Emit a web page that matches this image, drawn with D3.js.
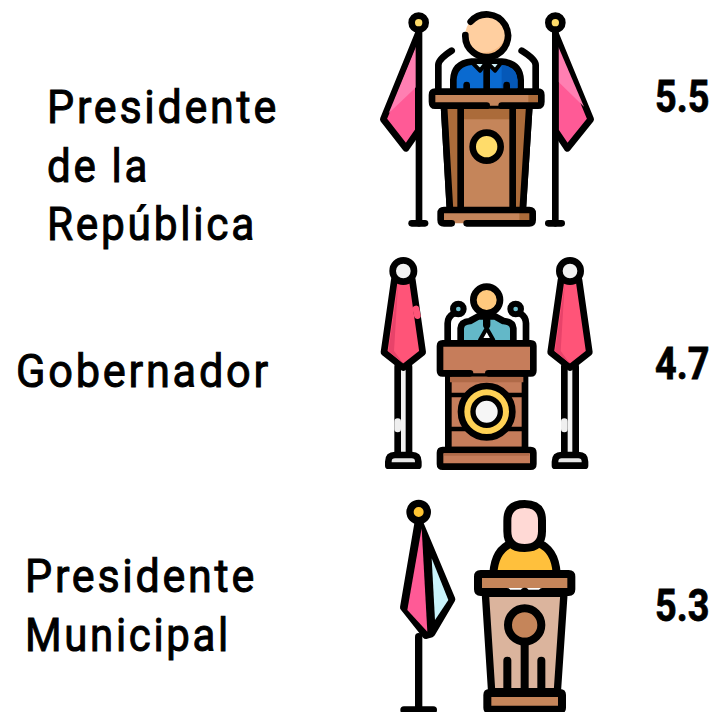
<!DOCTYPE html>
<html><head><meta charset="utf-8">
<script src="https://cdn.jsdelivr.net/npm/d3@7"></script>
<style>html,body{margin:0;background:#fff}svg{display:block}</style></head>
<body><svg id="c" width="715" height="712"></svg>
<script>
const categories = [["Presidente","de la","República"],["Gobernador"],["Presidente","Municipal"]];
const values = [5.5,4.7,5.3];

const labelX = [47,16,25];
const labelBaseline = [123,387,592];
const labelWidths = [[232,103,210],[255],[232,206]];
const valueBaseline = [112,379,621];
const lineHeight = 58.5;
const ink = "#000";
const svg = d3.select("#c");

const rows = svg.selectAll("g.row").data(categories).join("g").attr("class","row");
rows.each(function(lines,i){
  d3.select(this).selectAll("text").data(lines).join("text")
    .attr("x",labelX[i]).attr("y",(d,j)=>labelBaseline[i]+j*lineHeight)
    .attr("font-family","Roboto").attr("font-weight",400).attr("font-size",47)
    .attr("letter-spacing",3)
    .attr("stroke",ink).attr("stroke-width",1)
    .attr("textLength",(d,j)=>labelWidths[i][j]).attr("lengthAdjust","spacingAndGlyphs")
    .attr("fill",ink).text(d=>d);
});
svg.selectAll("text.val").data(values).join("text").attr("class","val")
  .attr("transform",(d,i)=>`translate(655,${valueBaseline[i]}) scale(0.84,1)`)
  .attr("font-family","Roboto").attr("font-weight",700).attr("font-size",45)
  .attr("stroke",ink).attr("stroke-width",0.8)
  .attr("fill",ink).text(d=>d3.format(".1f")(d));

function draw(g,list){
  g.selectAll("path").data(list).join("path")
    .attr("d",d=>d[0]).attr("fill",d=>d[1]||"none")
    .attr("stroke",d=>d[2]===0?"none":(d[3]||ink)).attr("stroke-width",d=>d[2]||20)
    .attr("stroke-linecap","round").attr("stroke-linejoin","round");
}
function circ(x,y,r){return `M${x-r},${y}a${r},${r} 0 1,0 ${2*r},0a${r},${r} 0 1,0 ${-2*r},0Z`;}
function rrect(x,y,w,h,r){return `M${x+r},${y}H${x+w-r}Q${x+w},${y} ${x+w},${y+r}V${y+h-r}Q${x+w},${y+h} ${x+w-r},${y+h}H${x+r}Q${x},${y+h} ${x},${y+h-r}V${y+r}Q${x},${y} ${x+r},${y}Z`;}

const wood="#c5855a", dark="#ab6b3a", wood2="#c67d5b", dark2="#b06a48", pink="#ff5a96", pinkL="#ff7fb2", red="#ff5478", redD="#e8436a", gold="#ffdc6a";

const icon1=[
 ["M145,100L40,358L108,445L145,392Z",pink],
 ["M138,140L56,340L138,262Z",pinkL,0],
 ["M147,70V670"],["M125,670H165"],
 [circ(146,68,21),gold],
 ["M556,100L662,358L592,445L556,392Z",pink],
 ["M565,140L642,320L565,245Z",pinkL,0],
 ["M556,70V670"],["M535,670H575"],
 [circ(556,68,21),gold],
 ["M205,272V195Q205,178 245,152"],["M497,272V195Q497,178 455,152"],
 ["M250,272V240Q252,190 305,185H395Q450,190 452,240V272","#0a6ad0"],
 ["M395,195Q440,200 443,240V264H395Z","#0558b8",0],
 ["M305,186H350L330,212ZM350,186H395L375,212Z","#cdeef7",12],
 ["M350,190V272"],["M290,272V255M410,272V255"],
 [circ(350,105,64),"#ffcfa0",0],
 ["M408,105A58,58 0 0 1 320,155A70,70 0 0 0 408,105Z","#f8bb84",0],
 ["M302,65A64,64 0 1 1 286,105",null],
 ["M222,318L478,318L458,632L240,632Z",wood],
 ["M230,326H470L468,358H232Z",dark,0],
 ["M232,326H272V625H245ZM428,326H470L455,625H428Z",dark,0],
 ["M272,322V630"],["M428,322V630"],
 ["M222,318L240,632M478,318L458,632"],
 [rrect(186,275,328,42,10),wood,0],
 ["M475,283H508V308H475Z",dark,0],
 ["M350,317H195Q186,317 186,305V285Q186,275 196,275H504Q514,275 514,285V305Q514,317 504,317H395",null],
 [circ(350,440,42),gold],
 [rrect(212,630,276,40,8),wood,0],
 ["M448,638H482V662H448Z",dark,0],
 ["M245,670H222Q212,670 212,660V640Q212,630 222,630H478Q488,630 488,640V660Q488,670 478,670H290"]
];
const flag2=(x,gapFlag)=>[
 [`M${x-17},365V632H${x+17}V365`,"#f3f3f3"],
 [`M${x-17},530V552`,null,20,"#efefef"],
 [`M${x-45},662V650Q${x-45},630 ${x-25},630H${x+25}Q${x+45},630 ${x+45},650V662Z`,"#e8e8e8"],
 [`M${x-27},105L${x-58},322L${x},368L${x+58},322L${x+27},105Z`,red],
 [`M${x-16},120L${x-45},318L${x},356L${x-28},318Z`,redD,0],
 ...(gapFlag?[[`M${x+38},192L${x+42},212`,null,20,red]]:[]),
 [circ(x,78,32),"#f2f2f2"]
];
const icon2=[
 ...flag2(100,true),...flag2(600,false),
 ["M233,285V235Q233,215 252,205"],["M468,285V235Q468,215 450,205"],
 [circ(265,192,16),"#6fc0cf",18],[circ(437,192,16),"#6fc0cf",18],
 ["M272,285V250Q274,230 300,228L325,214H375L400,228Q428,230 430,250V285","#63b8c8"],
 ["M330,285L350,250L370,285Z","#fff",12],
 ["M350,225V240","#f8bb84",22],
 [circ(350,165,40),"#ffc97e"],
 ["M235,385L465,385L465,615L235,615Z",wood2],
 ["M240,395H460V412H240Z",dark2,0],
 ["M240,450H460M240,552H460",null,14],
 [rrect(210,295,280,90,8),wood2,0],
 ["M300,385H218Q210,385 210,377V303Q210,295 218,295H482Q490,295 490,303V377Q490,385 482,385H355"],
 [circ(350,500,77),"#ffd255",20],
 [circ(350,500,41),"#f6f6f6",16],
 [rrect(210,615,280,50,8),wood2],
 ["M222,625H478V632H222Z",dark2,0]
];
const icon3=[
 ["M86,440V660",null,22],["M42,660H130",null,22],
 ["M86,95L42,352L108,435L124,430L184,328Z","#000",24],
 ["M95,115L52,360L112,425Z",pink,0],
 ["M125,205L175,330L135,390Z","#c9f3fb",0],
 [circ(86,66,26),"#ffc533",22],
 ["M310,250Q315,178 365,160H445Q495,178 500,250","#ffc03c",24],
 ["M352,112V92Q352,42 404,42Q456,42 456,92V124Q456,174 404,174Q352,174 352,124Z","#ffd9d5",24],
 ["M286,310H522L502,605H305Z","#dbb49d",22],
 ["M272,262H536V294H272Z",wood,0],
 ["M350,306H272Q264,306 264,298V260Q264,252 272,252H536Q544,252 544,260V298Q544,306 536,306H458",null,24],
 ["M404,306V305",null,24],
 [circ(404,405,50),wood,24],
 ["M404,455V605",null,24],["M352,512V605",null,24],["M454,512V605",null,24],
 [rrect(292,609,224,50,6),wood,24]
];
const icons=[[icon1,370,0],[icon2,370,245],[icon3,390,490]];
svg.selectAll("g.icon").data(icons).join("g").attr("class","icon")
  .attr("transform",d=>`translate(${d[1]},${d[2]}) scale(${1/3})`)
  .each(function(d){draw(d3.select(this),d[0]);});
</script></body></html>
